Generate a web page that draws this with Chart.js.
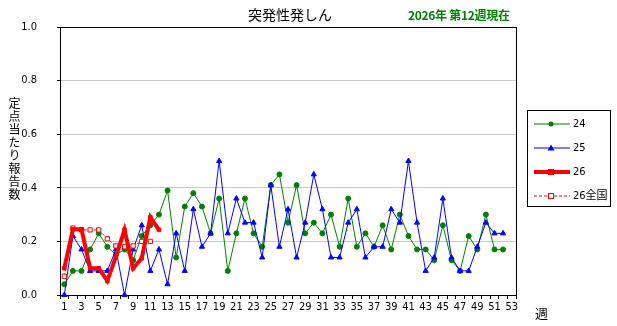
<!DOCTYPE html>
<html>
<head>
<meta charset="utf-8">
<script src="https://cdn.jsdelivr.net/npm/chart.js@4.4.0/dist/chart.umd.min.js"></script>
<style>
  body { margin: 0; background: #fff; }
  #wrap { position: relative; width: 617px; height: 326px; font-family: "Noto Sans CJK JP", sans-serif; color: #000; }
  #chart { position: absolute; left: 0; top: 0; }
  #title { position: absolute; left: 248px; top: 5px; font-size: 14px; line-height: 18px; }
  #asof { position: absolute; left: 408px; top: 6px; font-size: 12px; line-height: 18px; font-weight: bold; color: #008000; letter-spacing: -0.3px; }
  #ytitle { position: absolute; left: 6px; top: 97px; font-size: 12px; writing-mode: vertical-rl; letter-spacing: 1px; }
  #xtitle { position: absolute; left: 535px; top: 303px; font-size: 13px; }
  #legend { position: absolute; left: 527px; top: 110px; width: 82px; height: 95px; border: 1px solid #000; }
  .item { position: absolute; left: 5px; height: 14px; font-size: 11px; line-height: 14px; font-family: "DejaVu Sans Condensed", "Noto Sans CJK JP", sans-serif; }
  .item svg { position: absolute; left: 0; top: 2px; }
  .item span { position: absolute; left: 40px; top: 0; white-space: nowrap; }
</style>
</head>
<body>
<div id="wrap">
  <canvas id="chart" width="617" height="326"></canvas>
  <div id="title">突発性発しん</div>
  <div id="asof">2026年 第12週現在</div>
  <div id="ytitle">定点当たり報告数</div>
  <div id="xtitle">週</div>
  <div id="legend"></div>
</div>
<script>
// week labels
var weeks = ['1','2','3','4','5','6','7','8','9','10','11','12','13','14','15','16','17','18','19','20',
  '21','22','23','24','25','26','27','28','29','30','31','32','33','34','35','36','37','38','39','40',
  '41','42','43','44','45','46','47','48','49','50','51','52','53'];

// values per sentinel site
var s24 = [0.04,0.09,0.09,0.17,0.23,0.18,0.15,0.17,0.13,0.22,0.26,0.30,0.39,0.14,0.33,0.38,0.33,0.23,0.36,0.09,
  0.23,0.36,0.23,0.18,0.41,0.45,0.27,0.41,0.23,0.27,0.23,0.30,0.18,0.36,0.18,0.23,0.18,0.26,0.17,0.30,
  0.22,0.17,0.17,0.13,0.26,0.13,0.09,0.22,0.17,0.30,0.17,0.17];
var s25 = [0.00,0.22,0.17,0.09,0.09,0.09,0.17,0.00,0.17,0.26,0.09,0.17,0.04,0.23,0.09,0.32,0.18,0.23,0.50,0.23,
  0.36,0.27,0.27,0.14,0.41,0.18,0.32,0.14,0.27,0.45,0.32,0.14,0.14,0.27,0.32,0.14,0.18,0.18,0.32,0.27,
  0.50,0.27,0.09,0.14,0.36,0.14,0.09,0.09,0.18,0.27,0.23,0.23];
var s26 = [0.10,0.245,0.245,0.10,0.10,0.053,0.143,0.243,0.10,0.137,0.29,0.243];
var s26all = [0.07,0.25,0.243,0.243,0.243,0.21,0.183,0.18,0.183,0.20,0.20];

var yTicks = ['0.0','0.2','0.4','0.6','0.8','1.0'];

var series = [
  { label: '26', data: s26, color: '#ff0000', width: 4, dash: [], point: 'rect', radius: 2.5, fill: '#ff0000', order: 0 },
  { label: '26全国', data: s26all, color: '#ff0000', width: 1, dash: [3, 2], point: 'rect', radius: 3, fill: '#ffffff', order: 1 },
  { label: '25', data: s25, color: '#0000ff', width: 1, dash: [], point: 'triangle', radius: 3, fill: '#0000ff', order: 2 },
  { label: '24', data: s24, color: '#008000', width: 1, dash: [], point: 'circle', radius: 2.5, fill: '#008000', order: 3 }
];

var tickFont = { family: "'Liberation Sans Narrow', 'DejaVu Sans Condensed', sans-serif", size: 11 };

// black box round the plot area
var framePlugin = {
  id: 'frame',
  beforeDatasetsDraw: function (c) {
    var a = c.chartArea, g = c.ctx;
    g.save();
    g.strokeStyle = '#000';
    g.lineWidth = 1;
    g.strokeRect(Math.round(a.left) + 0.5, Math.round(a.top) + 0.5, Math.round(a.right - a.left), Math.round(a.bottom - a.top));
    g.restore();
  }
};

var chart = new Chart(document.getElementById('chart'), {
  type: 'line',
  data: {
    labels: weeks,
    datasets: series.map(function (s) {
      return {
        label: s.label,
        data: s.data,
        borderColor: s.color,
        borderWidth: s.width,
        borderDash: s.dash,
        pointStyle: s.point,
        pointRadius: s.radius,
        pointBackgroundColor: s.fill,
        pointBorderColor: s.color,
        pointBorderWidth: 1,
        tension: 0,
        clip: false,
        order: s.order
      };
    })
  },
  options: {
    responsive: false,
    animation: false,
    layout: { padding: { top: 27, right: 101, left: 0, bottom: 0 } },
    plugins: { legend: { display: false }, tooltip: { enabled: false } },
    scales: {
      x: {
        offset: true,
        grid: { offset: true, drawOnChartArea: false, color: '#000', tickLength: 4 },
        border: { color: '#000' },
        ticks: {
          autoSkip: false, maxRotation: 0, padding: 2, color: '#000', font: tickFont,
          callback: function (v, i) { return i % 2 === 0 ? weeks[i] : ''; }
        },
        afterFit: function (s) { s.height = 31; }
      },
      y: {
        min: 0, max: 1,
        ticks: {
          stepSize: 0.2, padding: 20, color: '#000', font: tickFont,
          callback: function (v, i) { return yTicks[i]; }
        },
        grid: {
          color: function (c) { return (c.tick && (c.tick.value === 0 || c.tick.value === 1)) ? 'rgba(0,0,0,0)' : '#c4c8c8'; },
          tickColor: '#000', tickLength: 3
        },
        border: { color: '#000' },
        afterFit: function (s) { s.width = 60; }
      }
    }
  },
  plugins: [framePlugin]
});

// legend box, order as in the picture
var legendOrder = ['24', '25', '26', '26全国'];
var legendTop = [6, 30, 54, 78];
var box = document.getElementById('legend');
legendOrder.forEach(function (name, k) {
  var s = series.filter(function (d) { return d.label === name; })[0];
  var mark = '';
  if (s.point === 'circle') mark = '<circle cx="18" cy="5" r="2.5" fill="' + s.fill + '"/>';
  if (s.point === 'triangle') mark = '<polygon points="18,1.5 21.5,7.5 14.5,7.5" fill="' + s.fill + '"/>';
  if (s.point === 'rect') mark = '<rect x="15.5" y="2.5" width="5" height="5" fill="' + s.fill + '" stroke="' + s.color + '"/>';
  var svg = '<svg width="38" height="10"><line x1="1" y1="5" x2="37" y2="5" stroke="' + s.color +
    '" stroke-width="' + s.width + '"' + (s.dash.length ? ' stroke-dasharray="' + s.dash.join(',') + '"' : '') + '/>' + mark + '</svg>';
  var div = document.createElement('div');
  div.className = 'item';
  div.style.top = legendTop[k] + 'px';
  div.innerHTML = svg + '<span>' + name + '</span>';
  box.appendChild(div);
});
</script>
</body>
</html>
